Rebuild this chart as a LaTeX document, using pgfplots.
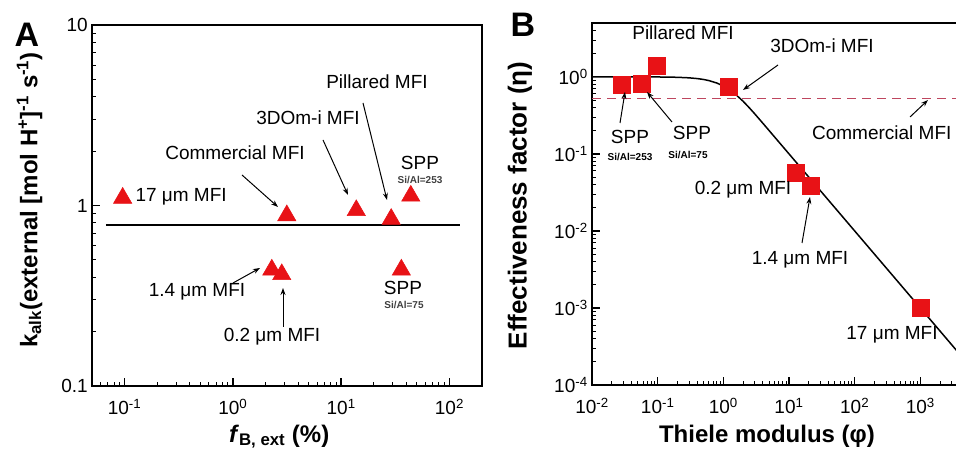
\documentclass[border=0pt]{standalone}
\usepackage{fontspec}
\setmainfont{Liberation Sans}
\usepackage{pgfplots}
\pgfplotsset{compat=1.18}
\usetikzlibrary{arrows.meta}

\definecolor{mkred}{RGB}{232,18,22}
\definecolor{dashred}{RGB}{190,70,95}
\newcommand{\ann}{\fontsize{19}{22}\selectfont}
\newcommand{\sml}{\bfseries\fontsize{10}{12}\selectfont}

\pgfplotsset{every axis/.append style={
    scale only axis, anchor=south west,
    line width=2pt,
    tick pos=left, tick align=inside,
    axis line style={line width=2pt},
    major tick style={line width=1.3pt, black},
    minor tick style={line width=1pt, black},
    major tick length=8pt, minor tick length=4.5pt,
    tick label style={font=\fontsize{19}{22}\selectfont},
    xticklabel style={yshift=-9pt},
    label style={font=\bfseries\fontsize{24}{28}\selectfont},
    clip=false,
}}

\begin{document}
\begin{tikzpicture}
\useasboundingbox (0pt,0pt) rectangle (956pt,452pt);

% ---- panel A
\begin{axis}[
    xmode=log, ymode=log,
    at={(92pt,66pt)},
    width=390pt, height=361pt,
    xmin=0.05, xmax=200, ymin=0.1, ymax=10,
    xtick={0.1,1,10,100},
    xticklabels={10\textsuperscript{-1},10\textsuperscript{0},10\textsuperscript{1},10\textsuperscript{2}},
    minor xtick={0.06,0.07,0.08,0.09,0.2,0.3,0.4,0.5,0.6,0.7,0.8,0.9,2,3,4,5,6,7,8,9,20,30,40,50,60,70,80,90},
    ytick={0.1,1,10},
    yticklabels={0.1,1,10},
    minor ytick={0.2,0.3,0.4,0.5,0.6,0.7,0.8,0.9,2,3,4,5,6,7,8,9},
    xlabel={\textit{f}\textsubscript{B, ext} (\%)},
    ylabel={k\textsubscript{alk}(external [mol H\textsuperscript{+}]\textsuperscript{-1} s\textsuperscript{-1})},
    xlabel style={at={(axis description cs:0.48,-0.14)}, anchor=center},
    ylabel style={at={(axis description cs:-0.16,0.515)}, anchor=center},
]
\addplot[black, line width=1.8pt] coordinates {(0.067,0.78) (124,0.78)};
\addplot[only marks, mark=triangle*, mark size=10.5pt, line width=0.6pt,
    mark options={fill=mkred, draw=mkred}] coordinates {
    (0.096,1.10) (3.15,0.88) (13.8,0.94) (29,0.84) (44,1.13)
    (2.29,0.44) (2.83,0.415) (36,0.44)
};
\end{axis}

% ---- panel B
\begin{axis}[
    xmode=log, ymode=log,
    at={(592pt,67pt)},
    width=394pt, height=362pt,
    xmin=0.01, xmax=10000, ymin=0.0001, ymax=5,
    xtick={0.01,0.1,1,10,100,1000},
    xticklabels={10\textsuperscript{-2},10\textsuperscript{-1},10\textsuperscript{0},10\textsuperscript{1},10\textsuperscript{2},10\textsuperscript{3}},
    minor xtick={0.02,0.03,0.04,0.05,0.06,0.07,0.08,0.09,0.2,0.3,0.4,0.5,0.6,0.7,0.8,0.9,2,3,4,5,6,7,8,9,20,30,40,50,60,70,80,90,200,300,400,500,600,700,800,900,2000,3000,4000,5000,6000,7000,8000,9000},
    ytick={0.0001,0.001,0.01,0.1,1},
    yticklabels={10\textsuperscript{-4},10\textsuperscript{-3},10\textsuperscript{-2},10\textsuperscript{-1},10\textsuperscript{0}},
    minor ytick={0.0002,0.0003,0.0004,0.0005,0.0006,0.0007,0.0008,0.0009,0.002,0.003,0.004,0.005,0.006,0.007,0.008,0.009,0.02,0.03,0.04,0.05,0.06,0.07,0.08,0.09,0.2,0.3,0.4,0.5,0.6,0.7,0.8,0.9,2,3,4},
    xlabel={Thiele modulus (φ)},
    ylabel={Effectiveness factor (η)},
    label style={font=\bfseries\fontsize{24}{28}\selectfont},
    ylabel style={font=\bfseries\fontsize{26}{30}\selectfont, at={(axis description cs:-0.183,0.496)}, anchor=center},
    xlabel style={at={(axis description cs:0.444,-0.143)}, anchor=center},
]
\addplot[dashred, line width=1.5pt, dash pattern=on 9pt off 6pt] coordinates {(0.01,0.52) (10000,0.52)};
\addplot[black, line width=1.5pt] coordinates {
    (0.01,0.99997) (0.03,0.9997) (0.1,0.99668) (0.2,0.98688) (0.3,0.97103)
    (0.4,0.94987) (0.5,0.92423) (0.6,0.89508) (0.8,0.83005) (1.0,0.76159)
    (1.2,0.69471) (1.5,0.60343) (2,0.48201) (2.5,0.39465) (3,0.33169)
    (4,0.24983) (5,0.19998) (7,0.14286) (10,0.1) (100,0.01) (1000,0.001) (10000,0.0001)
};
\addplot[only marks, mark=square*, mark size=8.5pt, line width=0.6pt,
    mark options={fill=mkred, draw=mkred}] coordinates {
    (0.0286,0.79) (0.057,0.81) (0.098,1.39) (1.23,0.74)
    (12.5,0.056) (21.2,0.038) (1000,0.001)
};
\end{axis}

\begin{scope}[x=1pt,y=1pt]
% ---- annotations, panel A
\node[font=\bfseries\fontsize{34}{36}\selectfont] at (27,417) {A};
\node[font=\ann] at (377,370) {Pillared MFI};
\node[font=\ann] at (308,334) {3DOm-i MFI};
\node[font=\ann] at (235,299) {Commercial MFI};
\node[font=\ann] at (420,289) {SPP};
\node[font=\sml, text=black!75] at (420,272) {Si/Al=253};
\node[font=\ann, anchor=west] at (132,255) {17 μm MFI};
\node[font=\ann] at (197,160) {1.4 μm MFI};
\node[font=\ann] at (272,115) {0.2 μm MFI};
\node[font=\ann] at (403,164) {SPP};
\node[font=\sml, text=black!75] at (404,147) {Si/Al=75};
\begin{scope}[line width=1pt, -{Stealth[length=7pt,width=5pt]}]
\draw (363,349) -- (387,252);
\draw (323,312) -- (348,257);
\draw (242,277) -- (278,245);
\draw (233,169) -- (260,184);
\draw (283,125) -- (283,164);
\end{scope}

% ---- annotations, panel B
\node[font=\bfseries\fontsize{34}{36}\selectfont] at (523,427) {B};
\node[font=\ann] at (683,419) {Pillared MFI};
\node[font=\ann] at (822,406) {3DOm-i MFI};
\node[font=\ann] at (630,315) {SPP};
\node[font=\sml] at (630,295) {Si/Al=253};
\node[font=\ann] at (692,319) {SPP};
\node[font=\sml] at (688,297) {Si/Al=75};
\node[font=\ann, anchor=east] at (955,319) {Commercial MFI};
\node[font=\ann] at (743,262) {0.2 μm MFI};
\node[font=\ann] at (800,192) {1.4 μm MFI};
\node[font=\ann] at (892,117) {17 μm MFI};
\begin{scope}[line width=1pt, -{Stealth[length=7pt,width=5pt]}]
\draw (778,387) -- (743,362);
\draw (620,329) -- (625,360);
\draw (672,330) -- (647,360);
\draw (910,335) -- (928,352);
\draw (802,209) -- (810,255);
\end{scope}
\end{scope}
\end{tikzpicture}
\end{document}
